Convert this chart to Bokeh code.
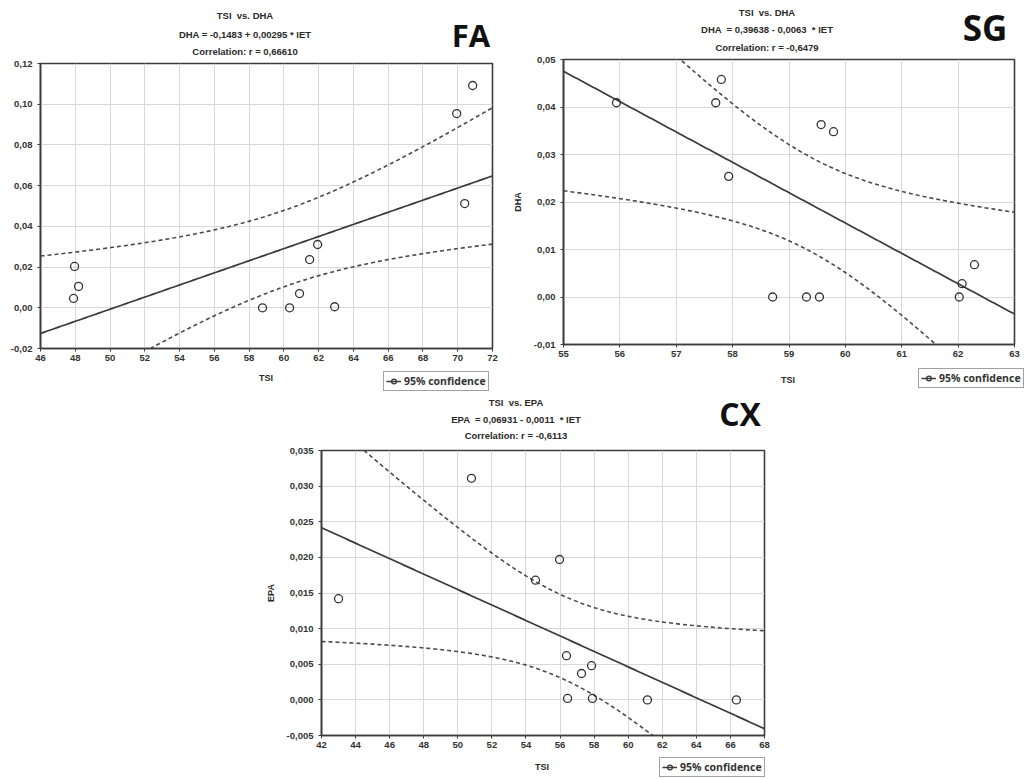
import numpy as np
from bokeh.plotting import figure
from bokeh.models import (Range1d, FixedTicker, CustomJSTickFormatter,
                          Legend, LegendItem, Spacer, Div)
from bokeh.layouts import row, column
from bokeh.embed import file_html
from bokeh.resources import INLINE

# ---------------- data ----------------
# FA panel
fa_tsi = [47.96, 48.19, 47.90, 70.86, 69.94, 70.40, 61.94, 61.48, 60.90, 58.77, 60.33, 62.92]
fa_dha = [0.0203, 0.0105, 0.0046, 0.1092, 0.0954, 0.0512, 0.0311, 0.0237, 0.0070, 0.0, 0.0, 0.0005]
fa_xticks = [46, 48, 50, 52, 54, 56, 58, 60, 62, 64, 66, 68, 70, 72]
fa_yticks = [-0.02, 0.0, 0.02, 0.04, 0.06, 0.08, 0.10, 0.12]
fa_ylabels = ["-0,02", "0,00", "0,02", "0,04", "0,06", "0,08", "0,10", "0,12"]
fa_title = ["TSI  vs. DHA", "DHA = -0,1483 + 0,00295 * IET", "Correlation: r = 0,66610"]

# SG panel
sg_tsi = [55.94, 57.70, 57.80, 57.93, 59.57, 59.79, 58.71, 59.31, 59.54, 62.02, 62.07, 62.29]
sg_dha = [0.0409, 0.0409, 0.0458, 0.0254, 0.0363, 0.0348, 0.0, 0.0, 0.0, 0.0, 0.0028, 0.0068]
sg_xticks = [55, 56, 57, 58, 59, 60, 61, 62, 63]
sg_yticks = [-0.01, 0.0, 0.01, 0.02, 0.03, 0.04, 0.05]
sg_ylabels = ["-0,01", "0,00", "0,01", "0,02", "0,03", "0,04", "0,05"]
sg_title = ["TSI  vs. DHA", "DHA  = 0,39638 - 0,0063  * IET", "Correlation: r = -0,6479"]

# CX panel
cx_tsi = [43.00, 50.80, 54.56, 55.97, 56.38, 56.44, 57.26, 57.85, 57.90, 61.13, 66.35]
cx_epa = [0.0142, 0.0311, 0.0168, 0.0197, 0.0062, 0.0002, 0.0037, 0.0048, 0.0002, 0.0, 0.0]
cx_xticks = [42, 44, 46, 48, 50, 52, 54, 56, 58, 60, 62, 64, 66, 68]
cx_yticks = [-0.005, 0.0, 0.005, 0.01, 0.015, 0.02, 0.025, 0.03, 0.035]
cx_ylabels = ["-0,005", "0,000", "0,005", "0,010", "0,015", "0,020", "0,025", "0,030", "0,035"]
cx_title = ["TSI  vs. EPA", "EPA  = 0,06931 - 0,0011  * IET", "Correlation: r = -0,6113"]

x_title = "TSI"
legend_label = "95% confidence"

TXT = "#2a2a2a"
FONT = "Liberation Sans"
LINE_C = "#3a3a3a"
BAND_C = "#4a4a4a"
PT_C = "#333333"


def tick_formatter(tvals, tlabels):
    return CustomJSTickFormatter(args=dict(tv=tvals, tl=tlabels), code="""
        let best = 1e9, idx = 0;
        for (let k = 0; k < tv.length; k++) {
            const d = Math.abs(tv[k] - tick);
            if (d < best) { best = d; idx = k; }
        }
        return tl[idx];
    """)


def fit_band(xs, ys, xr, tcrit):
    """Least-squares line and 95% confidence band of the mean, from the points."""
    x = np.asarray(xs, float)
    y = np.asarray(ys, float)
    n = len(x)
    b, a = np.polyfit(x, y, 1)
    xm = x.mean()
    sxx = ((x - xm) ** 2).sum()
    s = np.sqrt(((y - (a + b * x)) ** 2).sum() / (n - 2))
    xg = np.linspace(xr[0], xr[1], 200)
    yg = a + b * xg
    half = tcrit * s * np.sqrt(1.0 / n + (xg - xm) ** 2 / sxx)
    return xg, yg, half


def small_text(text, cx, cy, size="9.5px", width=320):
    return (f'<div style="position:absolute;left:{cx - width // 2}px;width:{width}px;top:{cy - 6}px;'
            f'height:12px;line-height:12px;text-align:center;white-space:pre;'
            f"font-family:'{FONT}';font-weight:bold;font-size:{size};color:{TXT};\">{text}</div>")


def box(parts, w, h):
    html = (f'<div style="position:relative;width:{w}px;height:{h}px;overflow:visible;">'
            + "".join(parts) + "</div>")
    return Div(text=html, width=w, height=h, margin=0)


def header(lines, cx, ys, tag, tag_xy, tag_px, w, h):
    parts = [small_text(line, cx, y) for line, y in zip(lines, ys)]
    tx, ty = tag_xy
    top = ty - 0.53 * tag_px
    parts.append(
        f'<div style="position:absolute;left:{tx - 60}px;width:120px;top:{top:.1f}px;'
        f'height:{tag_px}px;line-height:{tag_px}px;text-align:center;white-space:pre;'
        f"font-family:'Open Sans';font-weight:bold;font-size:{tag_px}px;color:#111111;\">{tag}</div>")
    return box(parts, w, h)


LEG_W, LEG_H = 108, 21


def legend_fig(xs, ys, xr, tcrit):
    # small canvas that only shows the legend box; the glyphs it refers to
    # use the panel's own data, which lies outside this canvas's 0..1 ranges
    lp = figure(width=LEG_W, height=LEG_H, x_range=Range1d(0, 1), y_range=Range1d(0, 1),
                x_axis_type=None, y_axis_type=None, min_border=0,
                output_backend="svg", toolbar_location=None, margin=0)
    lp.outline_line_color = None
    lp.grid.visible = False
    lp.background_fill_color = "white"
    lp.border_fill_color = "white"
    xg, yg, _ = fit_band(xs, ys, xr, tcrit)
    r1 = lp.line(xg, yg, line_color=LINE_C, line_width=1.5)
    r2 = lp.scatter(xs, ys, marker="circle", size=7, fill_alpha=0,
                    line_color=PT_C, line_width=1.2)
    lg = Legend(items=[LegendItem(label=legend_label, renderers=[r1, r2])],
                location="top_left",
                border_line_color="#444444", border_line_width=1,
                background_fill_color="white", background_fill_alpha=1,
                label_text_font="Open Sans", label_text_font_style="bold",
                label_text_font_size="10.5px", label_text_color="#333333",
                padding=2, margin=0, spacing=0, glyph_width=15, glyph_height=12,
                label_height=12, label_standoff=3)
    lp.add_layout(lg)
    return lp


def strip(xs, ys, xr, tcrit, tsi_cx, tsi_cy, leg_x, leg_y, h):
    lab = box([small_text(x_title, tsi_cx, tsi_cy, size="9px", width=60)], leg_x, h)
    right = column(Spacer(width=LEG_W, height=leg_y), legend_fig(xs, ys, xr, tcrit))
    return row(lab, right)


def panel(xs, ys, xticks, yticks, ylabels, ylabel, fig_w, fig_h, bl, br, bt, bb, tcrit):
    xr = (xticks[0], xticks[-1])
    yr = (yticks[0], yticks[-1])
    p = figure(width=fig_w, height=fig_h, x_range=Range1d(*xr), y_range=Range1d(*yr),
               min_border_left=bl, min_border_right=br, min_border_top=bt, min_border_bottom=bb,
               output_backend="svg", toolbar_location=None, margin=0)
    p.background_fill_color = "white"
    p.border_fill_color = "white"
    p.outline_line_color = "#3c3c3c"
    p.outline_line_width = 1.6

    for ax in (p.xaxis[0], p.yaxis[0]):
        ax.axis_line_color = "#3c3c3c"
        ax.axis_line_width = 1.6
        ax.major_tick_line_color = "#3c3c3c"
        ax.major_tick_out = 3
        ax.major_tick_in = 0
        ax.minor_tick_line_color = None
        ax.major_label_text_font = FONT
        ax.major_label_text_font_style = "bold"
        ax.major_label_text_font_size = "9.5px"
        ax.major_label_text_color = "#333333"
        ax.axis_label_text_font = FONT
        ax.axis_label_text_font_style = "bold"
        ax.axis_label_text_font_size = "9px"
        ax.axis_label_text_color = TXT

    p.xaxis[0].major_label_standoff = 3
    p.yaxis[0].major_label_standoff = 5
    p.xaxis[0].ticker = FixedTicker(ticks=xticks)
    p.yaxis[0].ticker = FixedTicker(ticks=yticks)
    p.xaxis[0].formatter = tick_formatter(xticks, [str(t) for t in xticks])
    p.yaxis[0].formatter = tick_formatter(yticks, ylabels)
    if ylabel:
        p.yaxis[0].axis_label = ylabel
        p.yaxis[0].axis_label_standoff = 8

    p.xgrid.grid_line_color = "#d8d8d8"
    p.ygrid.grid_line_color = "#d8d8d8"

    xg, yg, half = fit_band(xs, ys, xr, tcrit)
    p.line(xg, yg + half, line_color=BAND_C, line_width=1.6, line_dash="4 3")
    p.line(xg, yg - half, line_color=BAND_C, line_width=1.6, line_dash="4 3")
    p.line(xg, yg, line_color=LINE_C, line_width=1.7)
    p.scatter(xs, ys, marker="circle", size=8, fill_alpha=0, line_color=PT_C, line_width=1.3)
    return p


fa_xr = (fa_xticks[0], fa_xticks[-1])
sg_xr = (sg_xticks[0], sg_xticks[-1])
cx_xr = (cx_xticks[0], cx_xticks[-1])

# ---- FA (page x 0..500, y 0..392) ----
fa_col = column(
    header(fa_title, 245, (16, 35, 52), "FA", (471, 36), 31, 500, 57),
    panel(fa_tsi, fa_dha, fa_xticks, fa_yticks, fa_ylabels, None,
          500, 310, 40, 8, 6, 19, 2.228),
    strip(fa_tsi, fa_dha, fa_xr, 2.228, 266, 11, 383, 4, 25),
)

# ---- SG (page x 500..1026, y 0..392) ----
sg_col = column(
    header(sg_title, 267, (13, 30, 48), "SG", (485, 29), 35, 526, 53),
    panel(sg_tsi, sg_dha, sg_xticks, sg_yticks, sg_ylabels, "DHA",
          526, 310, 63, 12, 6, 19, 2.228),
    strip(sg_tsi, sg_dha, sg_xr, 2.228, 288, 17, 418, 5, 29),
)

# ---- CX (page x 258..776, y 392..778) ----
cx_col = column(
    header(cx_title, 258, (11, 28, 44), "CX", (482, 23), 32, 518, 52),
    panel(cx_tsi, cx_epa, cx_xticks, cx_yticks, cx_ylabels, "EPA",
          518, 310, 63, 12, 6, 19, 2.262),
    strip(cx_tsi, cx_epa, cx_xr, 2.262, 284, 13, 401, 3, 24),
)

layout = column(
    row(fa_col, sg_col),
    row(Spacer(width=258, height=386), cx_col),
)

open("out.html", "w").write(file_html(layout, INLINE))
